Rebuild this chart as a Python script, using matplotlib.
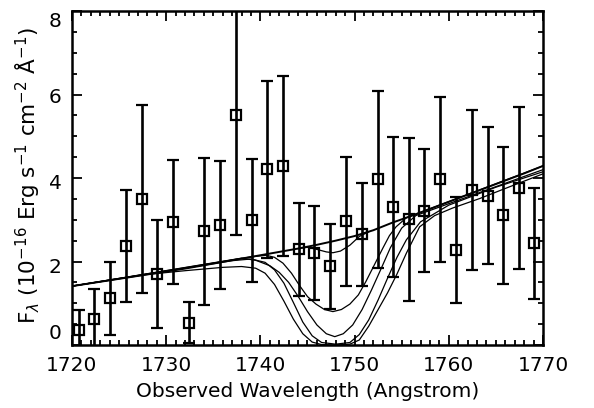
import matplotlib
matplotlib.use("Agg")
import matplotlib.pyplot as plt
from matplotlib.ticker import MultipleLocator
import matplotlib.transforms as mtransforms

# ---------------- data ----------------
wave = [1720.7, 1722.3, 1724.0, 1725.7, 1727.4, 1729.0, 1730.7, 1732.4, 1734.0, 1735.7,
        1737.4, 1739.1, 1740.7, 1742.4, 1744.1, 1745.7, 1747.4, 1749.1, 1750.8, 1752.5,
        1754.1, 1755.8, 1757.4, 1759.1, 1760.8, 1762.5, 1764.2, 1765.8, 1767.5, 1769.1]
flux = [0.37, 0.63, 1.12, 2.38, 3.50, 1.70, 2.95, 0.53, 2.72, 2.87,
        5.50, 2.99, 4.21, 4.29, 2.29, 2.21, 1.89, 2.96, 2.65, 3.97,
        3.30, 3.01, 3.22, 3.97, 2.28, 3.71, 3.58, 3.11, 3.75, 2.44]
err = [0.48, 0.70, 0.87, 1.34, 2.25, 1.29, 1.49, 0.49, 1.76, 1.54,
       2.87, 1.47, 2.12, 2.16, 1.12, 1.13, 1.02, 1.54, 1.24, 2.12,
       1.68, 1.96, 1.48, 1.98, 1.27, 1.92, 1.63, 1.64, 1.94, 1.33]

# continuum model (read)
cont_x = [1720, 1724, 1728, 1732, 1736, 1740, 1744, 1746, 1748, 1750,
          1752, 1754, 1756, 1758, 1760, 1762, 1764, 1766, 1768, 1770]
cont_y = [1.41, 1.55, 1.69, 1.83, 1.99, 2.15, 2.31, 2.40, 2.50, 2.61,
          2.75, 2.93, 3.09, 3.26, 3.43, 3.60, 3.77, 3.94, 4.11, 4.29]

# absorbed model curves (read)
m1_x = [1744.0, 1745.0, 1746.0, 1747.0, 1747.7, 1748.5, 1749.5, 1750.5, 1751.5]
m1_y = [2.31, 2.34, 2.29, 2.23, 2.21, 2.25, 2.39, 2.60, 2.71]

m2_x = [1720, 1739.0, 1740.6, 1741.5, 1742.4, 1743.3, 1744.2, 1745.0, 1745.9, 1746.8,
        1747.7, 1748.6, 1749.5, 1750.4, 1751.2, 1752.1, 1753.0, 1753.7, 1754.4, 1755.5, 1770]
m2_y = [1.41, 2.11, 2.15, 2.10, 1.96, 1.72, 1.41, 1.16, 0.98, 0.85,
        0.80, 0.85, 0.98, 1.20, 1.52, 1.92, 2.32, 2.62, 2.83, 3.05, 4.29]

m3_x = [1720, 1738.0, 1739.5, 1741.0, 1742.0, 1743.0, 1744.0, 1745.0, 1746.0, 1747.0,
        1747.9, 1748.8, 1749.8, 1750.8, 1751.8, 1752.8, 1753.8, 1755.0, 1756.5, 1770]
m3_y = [1.41, 2.08, 2.03, 1.90, 1.74, 1.50, 1.17, 0.80, 0.48, 0.27,
        0.20, 0.27, 0.48, 0.85, 1.32, 1.82, 2.33, 2.80, 3.10, 4.20]

m4_x = [1720, 1737.0, 1739.0, 1740.5, 1741.5, 1742.5, 1743.5, 1744.5, 1745.5, 1746.5,
        1748.0, 1749.5, 1750.5, 1751.5, 1752.5, 1753.5, 1754.5, 1755.5, 1757.0, 1760.0, 1765.0, 1770]
m4_y = [1.41, 2.02, 2.06, 1.98, 1.80, 1.48, 1.02, 0.55, 0.22, 0.06,
        0.02, 0.06, 0.25, 0.60, 1.08, 1.60, 2.10, 2.52, 2.95, 3.35, 3.78, 4.15]

m5_x = [1720, 1728.0, 1732.0, 1736.0, 1738.0, 1739.5, 1740.5, 1741.5, 1742.5, 1743.5,
        1744.5, 1745.5, 1746.5, 1748.0, 1749.5, 1750.5, 1751.5, 1752.5, 1753.5, 1754.5,
        1755.5, 1756.9, 1758.5, 1760.4, 1763.3, 1766.0, 1770]
m5_y = [1.41, 1.69, 1.78, 1.86, 1.88, 1.84, 1.72, 1.45, 1.05, 0.62,
        0.27, 0.07, 0.01, 0.00, 0.02, 0.12, 0.45, 0.85, 1.25, 1.70,
        2.20, 2.83, 3.10, 3.28, 3.51, 3.75, 4.10]

xticks = [1720, 1730, 1740, 1750, 1760, 1770]
yticks = [0, 2, 4, 6, 8]
ytick_labels = ["0", "2", "4", "6", "8"]

# ---------------- figure ----------------
plt.rcParams['font.family'] = ['DejaVu Sans']
fig = plt.figure(figsize=(5.94, 4.08), dpi=100)
ax = fig.add_axes([0.1212, 0.1544, 0.7929, 0.8186])

ax.set_xlim(1720, 1770)
ax.set_ylim(0, 8)

for mx, my in [(m5_x, m5_y), (m4_x, m4_y), (m3_x, m3_y), (m2_x, m2_y), (m1_x, m1_y)]:
    ax.plot(mx, my, color='black', lw=0.9, zorder=2)
ax.plot(cont_x, cont_y, color='black', lw=1.4, zorder=2)

ax.errorbar(wave, flux, yerr=err, fmt='s', mfc='none', mec='black', mew=1.6, ms=7.3,
            ecolor='black', elinewidth=1.9, capsize=4, capthick=1.9, zorder=3)

ax.xaxis.set_major_locator(MultipleLocator(10))
ax.xaxis.set_minor_locator(MultipleLocator(1))
ax.yaxis.set_major_locator(MultipleLocator(2))
ax.yaxis.set_minor_locator(MultipleLocator(0.5))
ax.set_xticks(xticks)
ax.tick_params(which='both', direction='in', top=True, right=True, width=1.3, color='black')
ax.tick_params(which='major', length=7, labelsize=14.5, pad=8)
ax.tick_params(which='minor', length=3.5)
ax.set_yticklabels([])
for s in ax.spines.values():
    s.set_linewidth(1.8)

# y tick labels drawn as text (IDL-like positioning)
ylab_off = [0.28, -0.15, -0.12, -0.08, -0.26]
for v, t, o in zip(yticks, ytick_labels, ylab_off):
    ax.text(-0.022, v + o, t, transform=mtransforms.blended_transform_factory(ax.transAxes, ax.transData),
            ha='right', va='center', fontsize=14.5)

ax.set_xlabel('Observed Wavelength (Angstrom)', fontsize=14.5, labelpad=5)
fig.text(0.047, 0.57, r'F$_\lambda$ (10$^{-16}$ Erg s$^{-1}$ cm$^{-2}$ $\mathrm{\AA}^{-1}$)',
         rotation=90, ha='center', va='center', fontsize=15.5)

fig.savefig('out.png', dpi=100)
